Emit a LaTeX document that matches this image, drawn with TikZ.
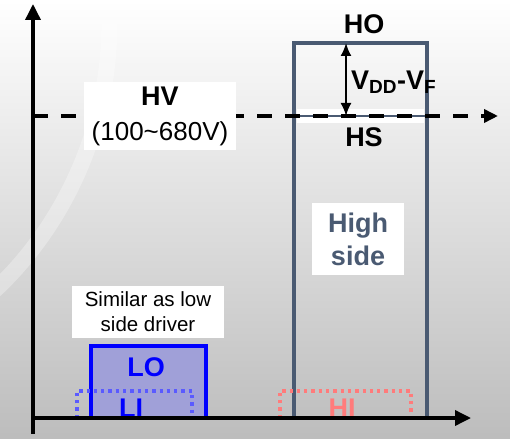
\documentclass[tikz,border=0pt]{standalone}
\usepackage{fontspec}
\setmainfont{Liberation Sans}
\usetikzlibrary{arrows.meta}
\definecolor{slate}{HTML}{4A5A72}
\definecolor{lob}{HTML}{0000FF}
\definecolor{lib}{HTML}{5A5AFF}
\definecolor{hib}{HTML}{FF7B7B}
\definecolor{lofill}{HTML}{A0A0D8}
\tikzset{
  axis/.style={line width=3.5pt, -{Triangle[length=16pt,width=15pt]}},
  hvline/.style={line width=3.5pt, dash pattern=on 15pt off 13pt, -{Triangle[length=14pt,width=13pt]}},
  whitebox/.style={fill=white, inner sep=0pt, align=center},
  bigb/.style={font=\fontsize{27}{33}\selectfont\bfseries, inner sep=0pt},
  dotbox/.style={line width=3.3pt, dash pattern=on 3.3pt off 4pt},
}
\begin{document}
\begin{tikzpicture}[x=1pt,y=-1pt]
\useasboundingbox (0,0) rectangle (510,438);
\shade[top color=white, bottom color=black!26] (0,0) rectangle (510,438);
\draw[white, opacity=0.3, line width=16pt] (108,-5) .. controls (118,110) and (70,220) .. (-5,290);

% coordinates
\coordinate (O) at (33,418);
\coordinate (ytop) at (33,4);
\coordinate (ybot) at (33,434);
\coordinate (xend) at (471,418);
\coordinate (hvl) at (33,116);
\coordinate (hvr) at (498,116);
\coordinate (hsl) at (294,116);
\coordinate (hsr) at (427,116);
\coordinate (hb1) at (294,418);
\coordinate (ht1) at (294,43);
\coordinate (ht2) at (427,43);
\coordinate (hb2) at (427,418);
\coordinate (va) at (346,43);
\coordinate (vb) at (346,116);

% high side box
\draw[slate, line width=3.5pt] (hb1) -- (ht1) -- (ht2) -- (hb2);
\fill[white] (297,109) rectangle (424,123);
\draw[slate, line width=2pt] (hsl) -- (hsr);

% HV dashed line
\draw[hvline] (hvl) -- (hvr);

\node[whitebox, minimum width=152pt, minimum height=68pt,
  font=\fontsize{26}{35}\selectfont] (hv) at (160,116)
  {{\fontsize{27}{35}\selectfont\bfseries HV}\\(100\textasciitilde680V)};

\node[bigb] (ho) at (364,24) {HO};
\node[bigb] (hs) at (364,137) {HS};
\draw[line width=2pt, {Latex[length=13pt,width=11pt]}-{Latex[length=13pt,width=11pt]}] (va) -- (vb);
\node[bigb, anchor=west] (vdd) at (351,82) {V\textsubscript{\fontsize{19}{20}\selectfont DD}-V\textsubscript{\fontsize{19}{20}\selectfont F}};

\node[whitebox, minimum width=92pt, minimum height=72pt, text=slate,
  font=\fontsize{27}{33}\selectfont\bfseries] (hsd) at (358,239) {High\\side};

% low side
\node[whitebox, minimum width=152pt, minimum height=52pt,
  font=\fontsize{20.5}{25}\selectfont] (sim) at (148,312) {Similar as low\\side driver};

\fill[lofill] (91,346) rectangle (206,418);
\coordinate (lo1) at (91,418);
\coordinate (lo2) at (91,346);
\coordinate (lo3) at (206,346);
\coordinate (lo4) at (206,418);
\draw[lob, line width=3.3pt] (lo1) -- (lo2) -- (lo3) -- (lo4);
\node[bigb, text=lob] (lo) at (146,367) {LO};

\coordinate (li1) at (77,418);
\coordinate (li2) at (77,391);
\coordinate (li3) at (192,391);
\coordinate (li4) at (192,418);
\draw[dotbox, lib] (li1) -- (li2) -- (li3) -- (li4);
\node[bigb, text=lob] (li) at (131,408) {LI};

\coordinate (hi1) at (280,418);
\coordinate (hi2) at (280,391);
\coordinate (hi3) at (411,391);
\coordinate (hi4) at (411,418);
\draw[dotbox, hib] (hi1) -- (hi2) -- (hi3) -- (hi4);
\node[bigb, text=hib] (hi) at (342,408) {HI};

% axes
\draw[axis] (ybot) -- (ytop);
\draw[axis] (O) -- (xend);
\end{tikzpicture}
\end{document}
